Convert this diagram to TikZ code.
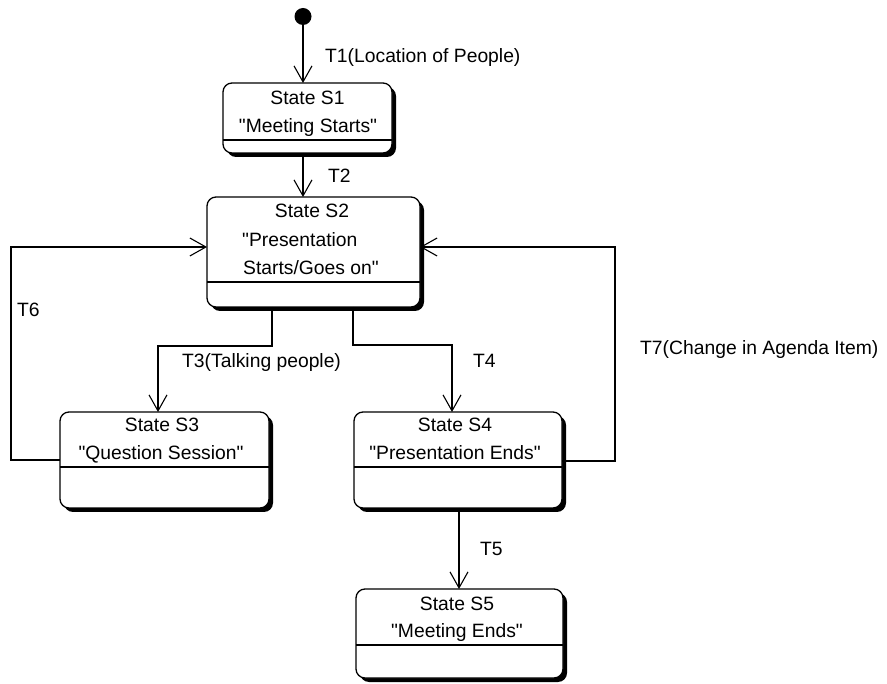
\documentclass[tikz,border=0pt]{standalone}
\usepackage{fontspec}
\setmainfont{Liberation Sans}[Ligatures=TeXOff]
\usetikzlibrary{arrows.meta,shadows}
\begin{document}
\begin{tikzpicture}[x=1pt,y=-1pt,
  font=\fontsize{19.3}{22}\selectfont,
  statebox/.style={draw, fill=white, rounded corners=9pt, line width=1.3pt,
    inner sep=0pt, outer sep=0pt,
    drop shadow={shadow xshift=4pt, shadow yshift=-4pt, fill=black, opacity=1}},
  comp/.style={line width=1.2pt},
  trans/.style={line width=1.1pt, -{Straight Barb[length=16pt,width=18pt,line width=1.1pt]}},
  lbl/.style={anchor=base west, inner sep=0pt},
  stxt/.style={anchor=base, inner sep=0pt}]
\useasboundingbox (0,0) rectangle (887,684);

% initial pseudo-state
\node[circle, fill=black, minimum size=17pt, inner sep=0pt] (init) at (303,16.5) {};

% states
\node[statebox, minimum width=169pt, minimum height=70pt]  (s1) at (307.5,118) {};
\node[statebox, minimum width=213pt, minimum height=110pt] (s2) at (313.5,252) {};
\node[statebox, minimum width=209pt, minimum height=96pt]  (s3) at (164.5,460) {};
\node[statebox, minimum width=208pt, minimum height=96pt]  (s4) at (458,460) {};
\node[statebox, minimum width=207pt, minimum height=89pt]  (s5) at (459.5,633.5) {};

% internal compartments
\draw[comp] ([yshift=-22pt]s1.west) -- ([yshift=-22pt]s1.east);
\draw[comp] ([yshift=-30pt]s2.west) -- ([yshift=-30pt]s2.east);
\draw[comp] ([yshift=-7pt]s3.west) -- ([yshift=-7pt]s3.east);
\draw[comp] ([yshift=-7pt]s4.west) -- ([yshift=-7pt]s4.east);
\draw[comp] ([yshift=-11.5pt]s5.west) -- ([yshift=-11.5pt]s5.east);

% state names
\node[stxt] (s1a) at (307.5,105) {State S1};
\node[stxt] (s1b) at (308,133) {"Meeting Starts"};
\node[stxt] (s2a) at (312,218) {State S2};
\node[lbl]  (s2b) at (242,247) {"Presentation};
\node[lbl]  (s2c) at (243,275) {Starts/Goes on"};
\node[stxt] (s3a) at (162,432) {State S3};
\node[stxt] (s3b) at (161,460) {"Question Session"};
\node[stxt] (s4a) at (455,432) {State S4};
\node[stxt] (s4b) at (455,460) {"Presentation Ends"};
\node[stxt] (s5a) at (457,610) {State S5};
\node[stxt] (s5b) at (457,637) {"Meeting Ends"};

% bend points of the transitions
\coordinate (t3a) at (272,346);
\coordinate (t3b) at (158,346);
\coordinate (t4a) at (353,345);
\coordinate (t4b) at (452,345);
\coordinate (t5)  at (459,550);
\coordinate (t6a) at (11,460);
\coordinate (t6b) at (11,247);
\coordinate (t7a) at (615,461);
\coordinate (t7b) at (615,247);

% transitions
\draw[trans] (init) -- (s1.north -| init);
\draw[trans] (s1.south -| init) -- (s2.north -| init);
\draw[trans] (s2.south -| t3a) -- (t3a) -- (t3b) -- (s3.north -| t3b);
\draw[trans] (s2.south -| t4a) -- (t4a) -- (t4b) -- (s4.north -| t4b);
\draw[trans] (s4.south -| t5) -- (s5.north -| t5);
\draw[trans] (s3.west |- t6a) -- (t6a) -- (t6b) -- (s2.west |- t6b);
\draw[trans] (s4.east |- t7a) -- (t7a) -- (t7b) -- (s2.east |- t7b);

% transition labels
\node[lbl] (l1) at (325,63)  {T1(Location of People)};
\node[lbl] (l2) at (328,183) {T2};
\node[lbl] (l3) at (182,368) {T3(Talking people)};
\node[lbl] (l4) at (473,368) {T4};
\node[lbl] (l5) at (480,555) {T5};
\node[lbl] (l6) at (17,317)  {T6};
\node[lbl] (l7) at (640,355) {T7(Change in Agenda Item)};
\end{tikzpicture}
\end{document}
